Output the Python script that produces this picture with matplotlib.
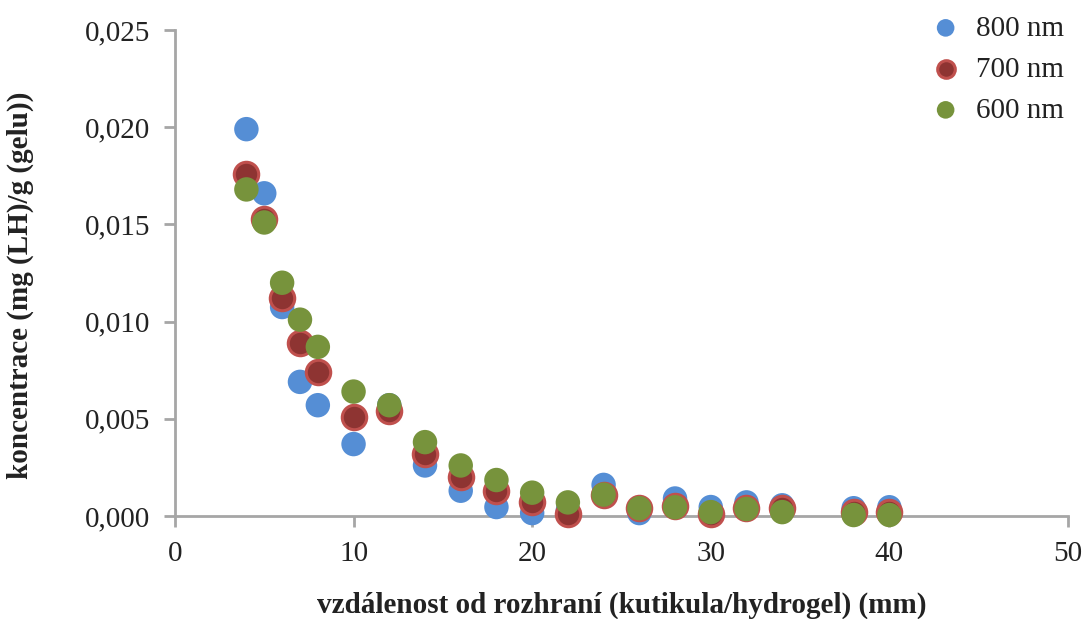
import matplotlib
matplotlib.use("Agg")
import matplotlib.pyplot as plt
from matplotlib.ticker import FuncFormatter

plt.rcParams['font.family'] = ['Liberation Serif', 'DejaVu Serif']

# distance from the cuticle/hydrogel interface (mm)
distance = [4, 5, 6, 7, 8, 10, 12, 14, 16, 18, 20, 22, 24, 26, 28, 30, 32, 34, 38, 40]

conc_800 = [0.0199, 0.0166, 0.01075, 0.0069, 0.0057, 0.0037, 0.0057, 0.0026, 0.0013, 0.00046,
            0.00015, 0.0003, 0.0016, 0.00015, 0.0009, 0.00046, 0.0007, 0.00055, 0.0004, 0.00045]
conc_700 = [0.0176, 0.0153, 0.0112, 0.0089, 0.0074, 0.0051, 0.0054, 0.0032, 0.0020, 0.0013,
            0.0007, 0.0001, 0.0011, 0.0004, 0.0005, 0.0001, 0.0004, 0.0004, 0.0002, 0.0002]
conc_600 = [0.0168, 0.0151, 0.0120, 0.0101, 0.0087, 0.0064, 0.0057, 0.0038, 0.0026, 0.00185,
            0.0012, 0.0007, 0.0011, 0.0004, 0.00045, 0.0002, 0.00036, 0.0002, 0.00005, 0.00005]

series_labels = ['800 nm', '700 nm', '600 nm']

fig = plt.figure(figsize=(10.84, 6.19), dpi=100)
ax = fig.add_axes([0.1614, 0.1664, 0.8238, 0.7851])

ax.scatter(distance, conc_800, s=310, color='#558ED5', edgecolors='none',
           label=series_labels[0], zorder=3, clip_on=False)
ax.scatter(distance, conc_700, s=310, color='#8E3432', edgecolors='#C0504D', linewidths=2.2,
           label=series_labels[1], zorder=4, clip_on=False)
ax.scatter(distance, conc_600, s=310, color='#77933C', edgecolors='none',
           label=series_labels[2], zorder=5, clip_on=False)

ax.set_xlim(0, 50)
ax.set_ylim(0, 0.025)
ax.set_xticks([0, 10, 20, 30, 40, 50])
ax.set_yticks([0, 0.005, 0.010, 0.015, 0.020, 0.025])
ax.yaxis.set_major_formatter(FuncFormatter(lambda v, p: f"{v:.3f}".replace('.', ',')))

for side in ('top', 'right'):
    ax.spines[side].set_visible(False)
for side in ('left', 'bottom'):
    ax.spines[side].set_color('#A6A6A6')
    ax.spines[side].set_linewidth(2)
ax.tick_params(axis='both', colors='#A6A6A6', length=8, width=2, labelsize=21,
               labelcolor='#222222', direction='out')
ax.tick_params(axis='x', pad=10)
ax.tick_params(axis='y', pad=10)

ax.set_xlabel('vzdálenost od rozhraní (kutikula/hydrogel) (mm)', fontsize=21,
              fontweight='bold', color='#222222')
ax.xaxis.set_label_coords(0.5006, -0.156)
ax.set_ylabel('koncentrace (mg (LH)/g (gelu))', fontsize=21,
              fontweight='bold', color='#222222')
ax.yaxis.set_label_coords(-0.158, 0.475)

leg = fig.legend(loc='upper right', bbox_to_anchor=(1.006, 1.018), frameon=False,
                 fontsize=21, markerscale=0.72, handletextpad=0.05, labelspacing=0.5,
                 labelcolor='#222222')

fig.savefig('out.png', dpi=100)
